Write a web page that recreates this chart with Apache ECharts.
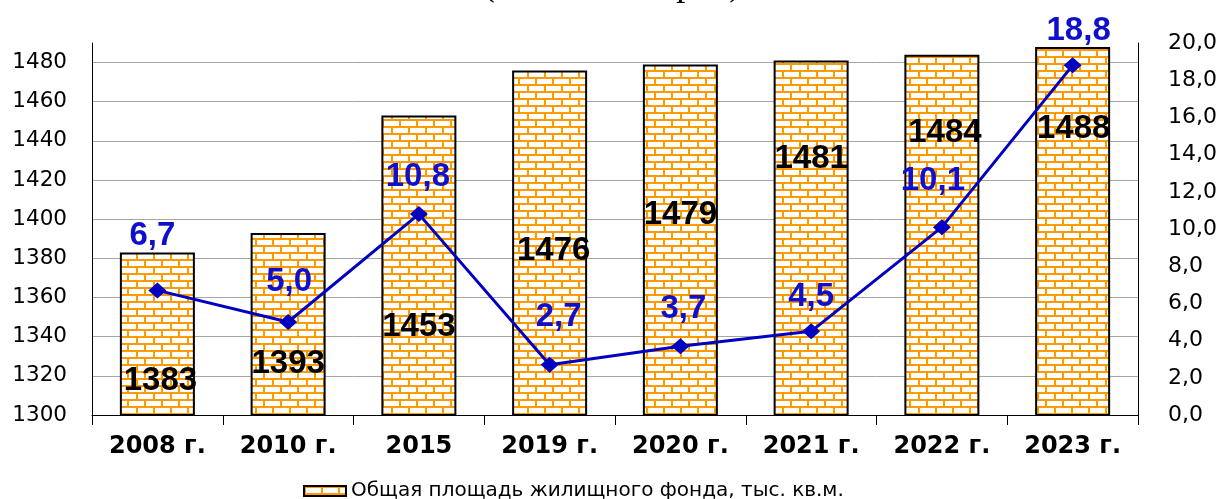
<!DOCTYPE html>
<html><head><meta charset="utf-8">
<script src="https://cdn.jsdelivr.net/npm/echarts@6/dist/echarts.min.js"></script>
<style>html,body{margin:0;padding:0;background:#fff}#c{width:1224px;height:499px}</style>
</head><body><div id="c"></div>
<script>
const categories = ['2008 г.', '2010 г.', '2015', '2019 г.', '2020 г.', '2021 г.', '2022 г.', '2023 г.'];
const areaValues = [1383, 1393, 1453, 1476, 1479, 1481, 1484, 1488];
const pctValues = [6.7, 5.0, 10.8, 2.7, 3.7, 4.5, 10.1, 18.8];
const leftTicks = [1300, 1320, 1340, 1360, 1380, 1400, 1420, 1440, 1460, 1480];
const rightTicks = [0, 2, 4, 6, 8, 10, 12, 14, 16, 18, 20];
const barName = 'Общая площадь жилищного фонда, тыс. кв.м.';
const titleText = '(тыс. кв. метров)';

// label placement (style, not data)
const barLabelOffsets = [[3,112],[0,114],[0,195],[4,164],[0,134],[0,82],[3,62],[1,65]];
const lineLabelOffsets = [[-5,-54],[1,-40],[-1,-37],[9,-48],[3,-37],[0,-34],[-9,-46],[6,-34]];

function brickPattern(){
  const c = document.createElement('canvas');
  const w = 34, h = 14;
  c.width = w; c.height = h;
  const g = c.getContext('2d');
  g.fillStyle = '#ff9900'; g.fillRect(0,0,w,h);
  g.fillStyle = '#ffffff';
  g.fillRect(2,2,15,5); g.fillRect(19,2,15,5);
  g.fillRect(0,9,8,5); g.fillRect(10,9,15,5); g.fillRect(27,9,7,5);
  return c;
}
const pattern = {image: brickPattern(), repeat: 'repeat'};

const chart = echarts.init(document.getElementById('c'), null, {renderer:'canvas'});
const gridColors = leftTicks.map((v,i)=> i===0 ? 'transparent' : '#a6a6a6').concat(['transparent']);

chart.setOption({
  animation: false,
  backgroundColor: '#fff',
  graphic: [{
    type: 'text', left: 'center', top: -32,
    style: {text: titleText, font: '36px "Liberation Serif"', fill: '#000'}
  }],
  legend: {
    left: 298, top: 476, itemWidth: 42, itemHeight: 10, itemGap: 5,
    data: [barName],
    textStyle: {fontFamily: 'DejaVu Sans', fontSize: 20, color: '#000'},
    icon: 'rect'
  },
  grid: {left: 92, right: 86, top: 43, bottom: 84, containLabel: false},
  xAxis: {
    type: 'category', data: categories,
    axisLine: {lineStyle: {color: '#000', width: 1}},
    axisTick: {show: true, length: 10, lineStyle: {color: '#000'}},
    axisLabel: {margin: 20, fontFamily: 'DejaVu Sans', fontWeight: 'bold', fontSize: 24, color: '#000'}
  },
  yAxis: [{
    type: 'value', min: 1300, max: 1490, interval: 20,
    axisLine: {show: true, lineStyle: {color: '#000'}},
    axisTick: {show: false},
    axisLabel: {margin: 25, fontFamily: 'DejaVu Sans', fontSize: 21.5, color: '#000',
      formatter: v => leftTicks.indexOf(v) >= 0 ? String(v) : ''},
    splitLine: {show: true, lineStyle: {color: gridColors, width: 1}}
  }, {
    type: 'value', min: 0, max: 20, interval: 2,
    axisLine: {show: true, lineStyle: {color: '#000'}},
    axisTick: {show: false},
    splitLine: {show: false},
    axisLabel: {margin: 30, fontFamily: 'DejaVu Sans', fontSize: 22, color: '#000',
      formatter: v => rightTicks.indexOf(v) >= 0 ? v.toFixed(1).replace('.', ',') : ''}
  }],
  series: [{
    name: barName, type: 'bar', yAxisIndex: 0, barWidth: 75,
    itemStyle: {color: pattern, borderColor: '#000', borderWidth: 2},
    data: areaValues.map((v,i)=>({value: v, label: {offset: barLabelOffsets[i]}})),
    label: {show: true, position: 'insideTop', distance: 0,
      fontFamily: 'Liberation Sans', fontWeight: 'bold', fontSize: 33, color: '#000'},
    z: 2
  }, {
    name: 'pct', type: 'line', yAxisIndex: 1,
    symbol: 'diamond', symbolSize: [18, 16],
    lineStyle: {color: '#0000c0', width: 3},
    itemStyle: {color: '#0000c0'},
    data: pctValues.map((v,i)=>({value: v, label: {offset: lineLabelOffsets[i]}})),
    label: {show: true, position: 'inside',
      formatter: p => p.value.toFixed(1).replace('.', ','),
      fontFamily: 'Liberation Sans', fontWeight: 'bold', fontSize: 33, color: '#1010cc'},
    z: 5
  }]
});
</script></body></html>
